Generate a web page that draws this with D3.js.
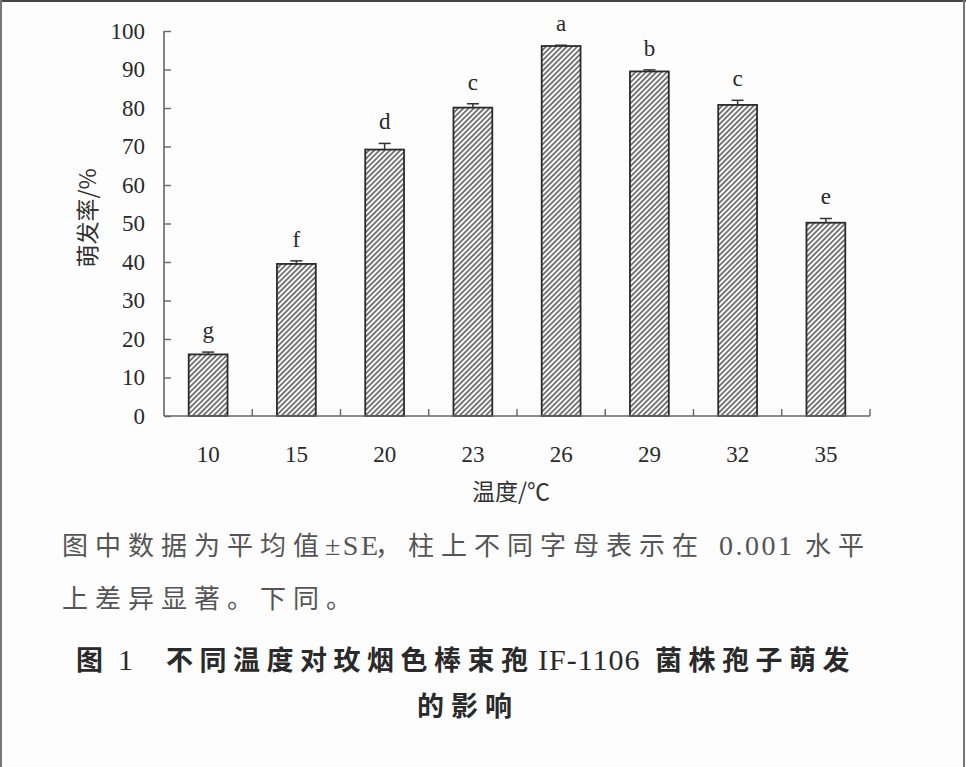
<!DOCTYPE html>
<html>
<head>
<meta charset="utf-8">
<script src="https://cdn.jsdelivr.net/npm/d3@7"></script>
<style>
  html, body { margin: 0; padding: 0; background: #fdfdfd; }
  svg { display: block; }
</style>
</head>
<body>
<script>
// ---- data ----
const categories = ["10", "15", "20", "23", "26", "29", "32", "35"];
const germination = [16.0, 39.5, 69.2, 80.1, 96.1, 89.5, 80.8, 50.2];
const seValues = [0.6, 0.8, 1.6, 1.0, 0.2, 0.4, 1.2, 1.1];
const letters = ["g", "f", "d", "c", "a", "b", "c", "e"];
const yTicks = [0, 10, 20, 30, 40, 50, 60, 70, 80, 90, 100];
const yTitle = "萌发率/%";
const xTitle = "温度/℃";
// note and caption text, split into CJK / Latin runs
const noteLine1 = [["图中数据为平均值", "cjk"], ["±SE", "lat"], ["，柱上不同字母表示在", "cjk"], ["0.001", "lat"], ["水平", "cjk"]];
const noteLine2 = [["上差异显著。下同。", "cjk"]];
const captionLine1 = [["图", "cjk"], ["1", "lat"], ["不同温度对玫烟色棒束孢", "cjk"], ["IF-1106", "lat"], ["菌株孢子萌发", "cjk"]];
const captionLine2 = "的影响";

(function () {
const W = 966, H = 767;
const svg = d3.select("body").append("svg").attr("width", W).attr("height", H);

// frame
svg.append("rect").attr("x", 0).attr("y", 0).attr("width", W).attr("height", H).attr("fill", "#fdfdfd");
svg.append("line").attr("x1", 0).attr("x2", W).attr("y1", 1).attr("y2", 1).attr("stroke", "#444").attr("stroke-width", 2);
svg.append("line").attr("x1", 1).attr("x2", 1).attr("y1", 0).attr("y2", H).attr("stroke", "#777").attr("stroke-width", 2);
svg.append("line").attr("x1", W - 2).attr("x2", W - 2).attr("y1", 0).attr("y2", H).attr("stroke", "#777").attr("stroke-width", 2);

const defs = svg.append("defs");
const pat = defs.append("pattern").attr("id", "hatch").attr("patternUnits", "userSpaceOnUse")
  .attr("width", 3.7).attr("height", 3.7).attr("patternTransform", "rotate(45)");
pat.append("rect").attr("width", 3.7).attr("height", 3.7).attr("fill", "#fbfbfb");
pat.append("line").attr("x1", 0.9).attr("x2", 0.9).attr("y1", 0).attr("y2", 3.7).attr("stroke", "#3a3a3a").attr("stroke-width", 1.3);

const pLeft = 164, pRight = 870, pTop = 31, pBottom = 416;
const x = d3.scaleBand().domain(categories).range([pLeft, pRight]).paddingInner(0.56).paddingOuter(0.28);
const y = d3.scaleLinear().domain([0, 100]).range([pBottom, pTop]);

const serif = "'Liberation Serif', 'Times New Roman', serif";
const cjk = "'Noto Sans CJK SC', sans-serif";

// bars
const data = categories.map((c, i) => ({ c, v: germination[i], se: seValues[i], l: letters[i] }));
svg.append("g").selectAll("rect").data(data).join("rect")
  .attr("x", d => x(d.c)).attr("width", x.bandwidth())
  .attr("y", d => y(d.v)).attr("height", d => y(0) - y(d.v))
  .attr("fill", "url(#hatch)").attr("stroke", "#2b2b2b").attr("stroke-width", 1.8);

// error bars
const eb = svg.append("g").attr("stroke", "#333").attr("stroke-width", 1.5);
data.forEach(d => {
  const cx = x(d.c) + x.bandwidth() / 2;
  eb.append("line").attr("x1", cx).attr("x2", cx).attr("y1", y(d.v)).attr("y2", y(d.v + d.se));
  eb.append("line").attr("x1", cx - 6).attr("x2", cx + 6).attr("y1", y(d.v + d.se)).attr("y2", y(d.v + d.se));
});

// letters
svg.append("g").selectAll("text").data(data).join("text")
  .attr("x", d => x(d.c) + x.bandwidth() / 2)
  .attr("y", d => y(d.v + d.se) - 14)
  .attr("text-anchor", "middle").attr("font-family", serif).attr("font-size", 23).attr("fill", "#2a2a2a")
  .text(d => d.l);

// y axis
const yAxis = svg.append("g").attr("transform", `translate(${pLeft},0)`)
  .call(d3.axisLeft(y).tickValues(yTicks).tickSize(-7).tickPadding(19).tickFormat(d3.format("d")));
yAxis.select(".domain").attr("stroke", "#666").attr("stroke-width", 1.6).attr("d", `M0,${pTop}V${pBottom}`);
yAxis.selectAll(".tick line").attr("stroke", "#666").attr("stroke-width", 1.4);
yAxis.selectAll(".tick text").attr("font-family", serif).attr("font-size", 23).attr("fill", "#2a2a2a");

// x axis (ticks between categories)
const step = x.step();
const xAxisG = svg.append("g").attr("transform", `translate(0,${pBottom})`);
xAxisG.append("line").attr("x1", pLeft).attr("x2", pRight).attr("y1", 0).attr("y2", 0)
  .attr("stroke", "#666").attr("stroke-width", 1.6);
xAxisG.selectAll("line.tk").data(categories).join("line").attr("class", "tk")
  .attr("x1", c => x(c) + x.bandwidth() / 2 + step / 2).attr("x2", c => x(c) + x.bandwidth() / 2 + step / 2)
  .attr("y1", 0).attr("y2", -7).attr("stroke", "#666").attr("stroke-width", 1.4);
xAxisG.selectAll("text").data(categories).join("text")
  .attr("x", c => x(c) + x.bandwidth() / 2).attr("y", 46)
  .attr("text-anchor", "middle").attr("font-family", serif).attr("font-size", 23).attr("fill", "#2a2a2a")
  .text(c => c);

// axis titles
svg.append("text").attr("x", 511).attr("y", 500).attr("text-anchor", "middle")
  .attr("font-family", cjk).attr("font-size", 23).attr("fill", "#333").text(xTitle);
svg.append("text").attr("transform", "translate(96,218) rotate(-90)").attr("text-anchor", "middle")
  .attr("font-family", cjk).attr("font-size", 23).attr("fill", "#333").text(yTitle);

// helper to write runs
function runs(yPos, parts, xs, opts) {
  const t = svg.append("text").attr("y", yPos).attr("fill", opts.fill);
  if (opts.weight) t.attr("font-weight", opts.weight);
  parts.forEach((p, i) => {
    const ts = t.append("tspan").attr("x", xs[i]).text(p[0]);
    if (p[1] === "cjk") ts.attr("font-family", cjk).attr("font-size", opts.cjkSize).attr("letter-spacing", opts.ls);
    else ts.attr("font-family", serif).attr("font-size", opts.latSize).attr("font-weight", opts.latWeight || "normal")
      .attr("letter-spacing", opts.latLs || 0);
  });
  return t;
}

// notes
runs(555, noteLine1, [62, 325, 375, 719, 805], { fill: "#555", cjkSize: 26, latSize: 28, ls: 7, latLs: 2.5 });
runs(608, noteLine2, [62], { fill: "#555", cjkSize: 26, latSize: 28, ls: 7 });

// caption
runs(670, captionLine1, [76, 118, 166, 538, 655], { fill: "#2a2a2a", cjkSize: 27, latSize: 30, ls: 6.5, latLs: 1, weight: "bold", latWeight: "normal" });
svg.append("text").attr("x", 468).attr("y", 716).attr("text-anchor", "middle").attr("font-family", cjk).attr("font-size", 27)
  .attr("font-weight", "bold").attr("fill", "#2a2a2a").attr("letter-spacing", 7).text(captionLine2);
})();
</script>
</body>
</html>
